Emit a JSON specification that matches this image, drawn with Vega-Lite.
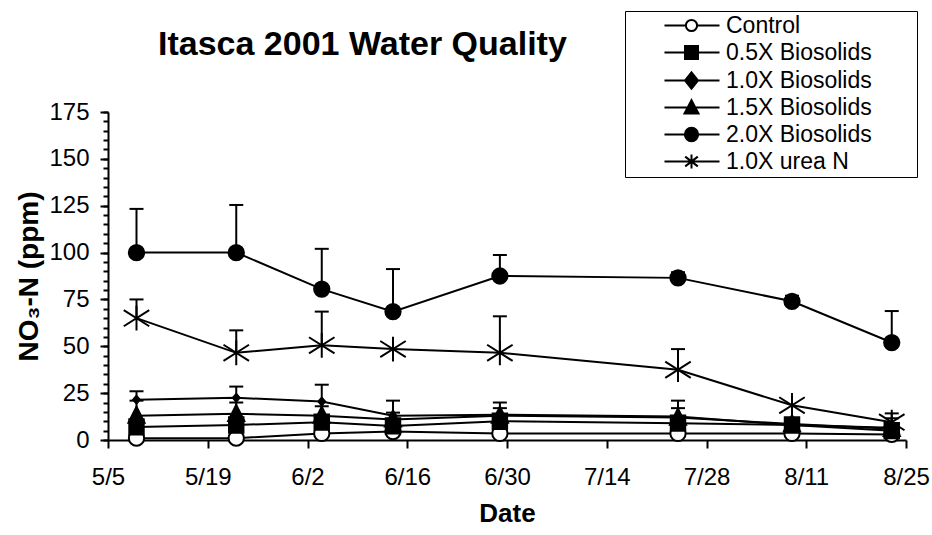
{
  "$schema": "https://vega.github.io/schema/vega-lite/v6.json",
  "width": 798,
  "height": 328,
  "autosize": {"type": "none"},
  "padding": {"left": 108, "top": 112, "right": 26, "bottom": 95},
  "background": "white",
  "title": {"text": "Itasca 2001 Water Quality", "anchor": "start", "frame": "group", "dx": 50, "offset": 0, "dy": 78, "baseline": "alphabetic", "font": "Liberation Sans", "fontSize": 34, "fontWeight": "bold", "color": "black"},
  "config": {"view": {"stroke": null}, "axis": {"grid": false}},
  "data": {"values": [
    {"series": "Control", "date": "2001/05/09", "value": 1, "hi": null},
    {"series": "Control", "date": "2001/05/23", "value": 1, "hi": null},
    {"series": "Control", "date": "2001/06/04", "value": 3.5, "hi": null},
    {"series": "Control", "date": "2001/06/14", "value": 4.5, "hi": null},
    {"series": "Control", "date": "2001/06/29", "value": 3.5, "hi": null},
    {"series": "Control", "date": "2001/07/24", "value": 3.5, "hi": null},
    {"series": "Control", "date": "2001/08/09", "value": 3.5, "hi": null},
    {"series": "Control", "date": "2001/08/23", "value": 3, "hi": null},
    {"series": "0.5X Biosolids", "date": "2001/05/09", "value": 7, "hi": null},
    {"series": "0.5X Biosolids", "date": "2001/05/23", "value": 8, "hi": null},
    {"series": "0.5X Biosolids", "date": "2001/06/04", "value": 9.5, "hi": null},
    {"series": "0.5X Biosolids", "date": "2001/06/14", "value": 7.5, "hi": null},
    {"series": "0.5X Biosolids", "date": "2001/06/29", "value": 10, "hi": null},
    {"series": "0.5X Biosolids", "date": "2001/07/24", "value": 9, "hi": null},
    {"series": "0.5X Biosolids", "date": "2001/08/09", "value": 8, "hi": null},
    {"series": "0.5X Biosolids", "date": "2001/08/23", "value": 5, "hi": null},
    {"series": "1.0X Biosolids", "date": "2001/05/09", "value": 21.5, "hi": 26},
    {"series": "1.0X Biosolids", "date": "2001/05/23", "value": 22.5, "hi": 28.5},
    {"series": "1.0X Biosolids", "date": "2001/06/04", "value": 20.5, "hi": 29.5},
    {"series": "1.0X Biosolids", "date": "2001/06/14", "value": 13, "hi": 21},
    {"series": "1.0X Biosolids", "date": "2001/06/29", "value": 13.5, "hi": 20},
    {"series": "1.0X Biosolids", "date": "2001/07/24", "value": 12.5, "hi": 21},
    {"series": "1.0X Biosolids", "date": "2001/08/09", "value": 8, "hi": null},
    {"series": "1.0X Biosolids", "date": "2001/08/23", "value": 6.5, "hi": 11.6},
    {"series": "1.5X Biosolids", "date": "2001/05/09", "value": 13, "hi": 21},
    {"series": "1.5X Biosolids", "date": "2001/05/23", "value": 14, "hi": 20},
    {"series": "1.5X Biosolids", "date": "2001/06/04", "value": 13, "hi": 18},
    {"series": "1.5X Biosolids", "date": "2001/06/14", "value": 11, "hi": 14.6},
    {"series": "1.5X Biosolids", "date": "2001/06/29", "value": 13, "hi": 17},
    {"series": "1.5X Biosolids", "date": "2001/07/24", "value": 12, "hi": 17},
    {"series": "1.5X Biosolids", "date": "2001/08/09", "value": 8.5, "hi": null},
    {"series": "1.5X Biosolids", "date": "2001/08/23", "value": 6, "hi": null},
    {"series": "2.0X Biosolids", "date": "2001/05/09", "value": 100, "hi": 123.3},
    {"series": "2.0X Biosolids", "date": "2001/05/23", "value": 100, "hi": 125.4},
    {"series": "2.0X Biosolids", "date": "2001/06/04", "value": 80.5, "hi": 102},
    {"series": "2.0X Biosolids", "date": "2001/06/14", "value": 68.5, "hi": 91.2},
    {"series": "2.0X Biosolids", "date": "2001/06/29", "value": 87.5, "hi": 98.7},
    {"series": "2.0X Biosolids", "date": "2001/07/24", "value": 86.5, "hi": 89.5},
    {"series": "2.0X Biosolids", "date": "2001/08/09", "value": 74, "hi": 77},
    {"series": "2.0X Biosolids", "date": "2001/08/23", "value": 52, "hi": 68.8},
    {"series": "1.0X urea N", "date": "2001/05/09", "value": 65, "hi": 75},
    {"series": "1.0X urea N", "date": "2001/05/23", "value": 46.5, "hi": 58.5},
    {"series": "1.0X urea N", "date": "2001/06/04", "value": 50.5, "hi": 68.5},
    {"series": "1.0X urea N", "date": "2001/06/14", "value": 48.5, "hi": null},
    {"series": "1.0X urea N", "date": "2001/06/29", "value": 46.5, "hi": 66},
    {"series": "1.0X urea N", "date": "2001/07/24", "value": 37.5, "hi": 48.5},
    {"series": "1.0X urea N", "date": "2001/08/09", "value": 18.5, "hi": null},
    {"series": "1.0X urea N", "date": "2001/08/23", "value": 9.5, "hi": 14.2}
  ]},
  "encoding": {
    "x": {
      "field": "date", "type": "temporal",
      "scale": {"domain": [{"year": 2001, "month": 5, "date": 5}, {"year": 2001, "month": 8, "date": 25}]},
      "axis": {
        "values": [
          {"year": 2001, "month": 5, "date": 5},
          {"year": 2001, "month": 5, "date": 19},
          {"year": 2001, "month": 6, "date": 2},
          {"year": 2001, "month": 6, "date": 16},
          {"year": 2001, "month": 6, "date": 30},
          {"year": 2001, "month": 7, "date": 14},
          {"year": 2001, "month": 7, "date": 28},
          {"year": 2001, "month": 8, "date": 11},
          {"year": 2001, "month": 8, "date": 25}
        ],
        "format": "%-m/%-d",
        "title": "Date",
        "titleFont": "Liberation Sans", "titleFontSize": 26, "titleFontWeight": "bold", "titleColor": "black", "titlePadding": 11,
        "labelFont": "Liberation Sans", "labelFontSize": 24, "labelColor": "black", "labelPadding": 17,
        "labelFlush": false, "labelOverlap": false,
        "tickSize": 8, "tickWidth": 2, "tickColor": "black",
        "domainColor": "black", "domainWidth": 2, "grid": false
      }
    }
  },
  "layer": [
    {
      "transform": [{"filter": "isValid(datum.hi)"}],
      "mark": {"type": "rule", "color": "black", "strokeWidth": 2},
      "encoding": {
        "y": {
          "field": "value", "type": "quantitative",
          "scale": {"domain": [0, 175], "nice": false},
          "axis": {
            "orient": "left",
            "values": [0, 25, 50, 75, 100, 125, 150, 175],
            "title": "NO₃-N (ppm)",
            "titleFont": "Liberation Sans", "titleFontSize": 28, "titleFontWeight": "bold", "titleColor": "black", "titlePadding": 5,
            "labelFont": "Liberation Sans", "labelFontSize": 24, "labelColor": "black", "labelPadding": 11,
            "labelFlush": false, "labelOverlap": false,
            "tickSize": 8, "tickWidth": 2, "tickColor": "black",
            "domainColor": "black", "domainWidth": 2, "grid": false
          }
        },
        "y2": {"field": "hi"}
      }
    },
    {
      "transform": [{"filter": "isValid(datum.hi)"}],
      "mark": {"type": "tick", "orient": "horizontal", "color": "black", "size": 14, "thickness": 2, "opacity": 1},
      "encoding": {
        "y": {
          "field": "hi", "type": "quantitative",
          "axis": {
            "orient": "left",
            "values": [0, 5, 10, 15, 20, 25, 30, 35, 40, 45, 50, 55, 60, 65, 70, 75, 80, 85, 90, 95, 100, 105, 110, 115, 120, 125, 130, 135, 140, 145, 150, 155, 160, 165, 170, 175],
            "labels": false, "title": null, "domain": false, "grid": false,
            "tickSize": 5, "tickWidth": 2, "tickColor": "black"
          }
        }
      }
    },
    {
      "mark": {"type": "line", "color": "black", "strokeWidth": 2},
      "encoding": {
        "y": {"field": "value", "type": "quantitative", "axis": null},
        "detail": {"field": "series"}
      }
    },
    {
      "mark": {"type": "point", "filled": true, "size": 289, "stroke": "black", "strokeWidth": 2, "opacity": 1},
      "encoding": {
        "y": {"field": "value", "type": "quantitative", "axis": null},
        "shape": {
          "field": "series",
          "scale": {
            "domain": ["Control", "0.5X Biosolids", "1.0X Biosolids", "1.5X Biosolids", "2.0X Biosolids", "1.0X urea N"],
            "range": [
              "M0.9,0A0.9,0.9 0 1,1 -0.9,0A0.9,0.9 0 1,1 0.9,0Z",
              "M-0.85,-0.9L0.85,-0.9L0.85,0.9L-0.85,0.9Z",
              "M0,-0.45L0.4,0L0,0.45L-0.4,0Z",
              "M0,-1.05L0.95,0.85L-0.95,0.85Z",
              "M0.9,0A0.9,0.9 0 1,1 -0.9,0A0.9,0.9 0 1,1 0.9,0Z",
              "M0,-1.45L0,1.45M-1.5,-0.95L1.5,0.95M-1.5,0.95L1.5,-0.95"
            ]
          },
          "legend": null
        },
        "fill": {
          "field": "series",
          "scale": {
            "domain": ["Control", "0.5X Biosolids", "1.0X Biosolids", "1.5X Biosolids", "2.0X Biosolids", "1.0X urea N"],
            "range": ["white", "black", "black", "black", "black", "black"]
          },
          "legend": null
        }
      }
    },
    {
      "transform": [{"filter": "false"}],
      "mark": {"type": "point"},
      "encoding": {
        "y": {"field": "value", "type": "quantitative", "axis": null},
        "shape": {
          "field": "series",
          "scale": {
            "domain": ["Control", "0.5X Biosolids", "1.0X Biosolids", "1.5X Biosolids", "2.0X Biosolids", "1.0X urea N"],
            "range": [
              "M-3.86,0L-0.8,0M0.8,0L4,0M0.8,0A0.8,0.8 0 1,1 -0.8,0A0.8,0.8 0 1,1 0.8,0ZM31.1,0",
              "M-3.86,0L4,0M-0.93,-0.93L0.93,-0.93L0.93,0.93L-0.93,0.93ZM-0.72,-0.72L0.72,-0.72L0.72,0.72L-0.72,0.72ZM-0.5,-0.5L0.5,-0.5L0.5,0.5L-0.5,0.5ZM-0.29,-0.29L0.29,-0.29L0.29,0.29L-0.29,0.29ZM-0.08,-0.08L0.08,-0.08L0.08,0.08L-0.08,0.08ZM31.1,0",
              "M-3.86,0L4,0M0,-1.15L0.93,0L0,1.15L-0.93,0ZM0,-0.89L0.72,0L0,0.89L-0.72,0ZM0,-0.62L0.5,0L0,0.62L-0.5,0ZM0,-0.36L0.29,0L0,0.36L-0.29,0ZM0,-0.09L0.07,0L0,0.09L-0.07,0ZM31.1,0",
              "M-3.86,0L4,0M0,-1.05L1,0.85L-1,0.85ZM0,-0.73L0.75,0.69L-0.75,0.69ZM0,-0.415L0.5,0.535L-0.5,0.535ZM0,-0.1L0.25,0.38L-0.25,0.38ZM31.1,0",
              "M-3.86,0L4,0M0.95,0A0.95,0.95 0 1,1 -0.95,0A0.95,0.95 0 1,1 0.95,0ZM0.74,0A0.74,0.74 0 1,1 -0.74,0A0.74,0.74 0 1,1 0.74,0ZM0.53,0A0.53,0.53 0 1,1 -0.53,0A0.53,0.53 0 1,1 0.53,0ZM0.32,0A0.32,0.32 0 1,1 -0.32,0A0.32,0.32 0 1,1 0.32,0ZM0.11,0A0.11,0.11 0 1,1 -0.11,0A0.11,0.11 0 1,1 0.11,0ZM31.1,0",
              "M-3.86,0L4,0M0,-1L0,1M-0.9,-0.7L0.9,0.7M-0.9,0.7L0.9,-0.7M31.1,0"
            ]
          },
          "legend": {
            "orient": "none", "legendX": 517, "legendY": -101,
            "title": null,
            "labelFont": "Liberation Sans", "labelFontSize": 23, "labelColor": "black",
            "symbolSize": 196, "symbolOffset": 52, "labelOffset": 23,
            "symbolStrokeColor": "black", "symbolStrokeWidth": 2, "symbolOpacity": 1,
            "padding": 3, "rowPadding": 3,
            "strokeColor": "black",
            "encode": {
              "legend": {"strokeWidth": {"value": 2}},
              "symbols": {
                "stroke": {"value": "black"},
                "strokeWidth": {"value": 2},
                "opacity": {"value": 1}
              }
            }
          }
        }
      }
    }
  ],
  "resolve": {"axis": {"y": "independent"}, "scale": {"shape": "independent"}, "legend": {"shape": "independent"}}
}
